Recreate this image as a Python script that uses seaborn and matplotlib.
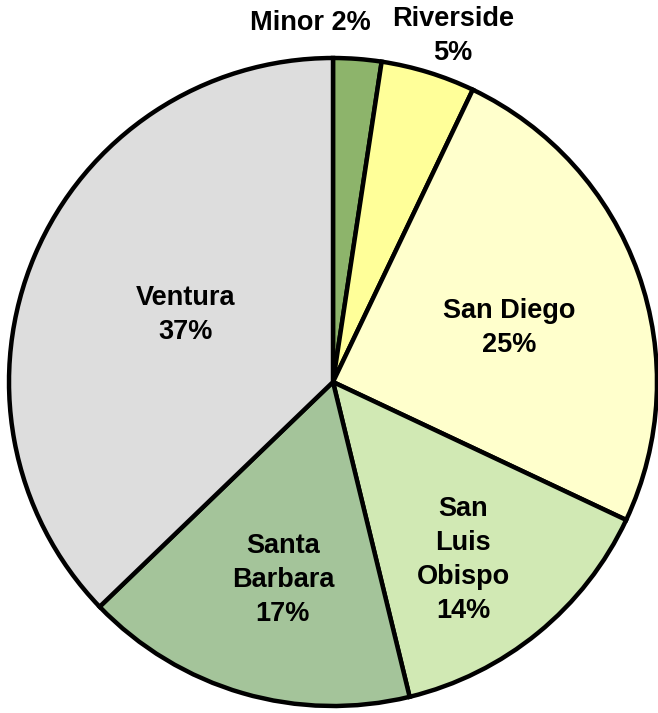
import numpy as np
import matplotlib
matplotlib.use("Agg")
import matplotlib.pyplot as plt
import seaborn as sns

# 数据
names = ["Minor", "Riverside", "San Diego", "San\nLuis\nObispo", "Santa\nBarbara", "Ventura"]
values = [2.4, 4.7, 24.9, 14.2, 16.6, 37.2]
colors = ["#8DB46B", "#FFFF99", "#FFFFCC", "#D1E9B4", "#A4C49A", "#DDDDDD"]

sns.set_style("white")
plt.rcParams['font.family'] = ['Liberation Sans Narrow', 'Liberation Sans', 'DejaVu Sans']

fig = plt.figure(figsize=(6.58, 7.13), dpi=100)
ax = fig.add_axes([9 / 658, 7 / 713, 648 / 658, 648 / 713])

wedges, _ = ax.pie(values, colors=colors, startangle=90, counterclock=False,
                   radius=1, wedgeprops=dict(edgecolor="black", linewidth=3.2))
ax.set_xlim(-1, 1)
ax.set_ylim(-1, 1)
ax.set_aspect("equal")
ax.axis("off")

# 标签位置 (半径, 角度偏移)
label_r = [1.11, 1.13, 0.57, 0.68, 0.63, 0.50]
label_dtheta = [8, -2, -2.5, -3, 2, -1.5]
for w, n, v, r, dt in zip(wedges, names, values, label_r, label_dtheta):
    mid = np.deg2rad((w.theta1 + w.theta2) / 2 + dt)
    pct = f"{round(v)}%"
    txt = f"{n} {pct}" if n == "Minor" else f"{n}\n{pct}"
    ax.text(r * np.cos(mid), r * np.sin(mid), txt, ha="center", va="center",
            color="black", fontsize=19.5, fontweight="bold", linespacing=1.4,
            clip_on=False)

fig.savefig("out.png", dpi=100)
